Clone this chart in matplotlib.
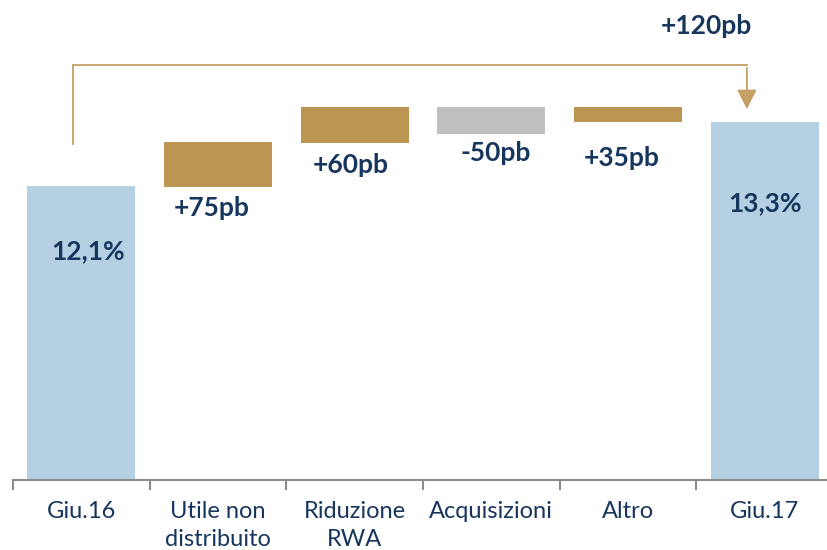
import matplotlib.pyplot as plt
from matplotlib.patches import FancyArrowPatch

# Dati (valori in %)
categorie = ['Giu.16', 'Utile non\ndistribuito', 'Riduzione\nRWA', 'Acquisizioni', 'Altro', 'Giu.17']
inizio = 12.1
fine = 13.3
step_basso = [12.08, 12.91, 13.08, 13.30]
step_alto = [12.93, 13.58, 13.58, 13.58]
step_segno = ['+', '+', '-', '+']
step_label = ['+75pb', '+60pb', '-50pb', '+35pb']
label_inizio = '12,1%'
label_fine = '13,3%'
label_totale = '+120pb'

BLU = '#B4D0E2'
ORO = '#BD9553'
GRIGIO = '#BFBFBF'
NAVY = '#17365D'
LINEA = '#C4A064'

plt.rcParams['font.family'] = ['Lato', 'DejaVu Sans']

fig = plt.figure(figsize=(8.27, 5.5), dpi=100)
ax = fig.add_axes([13 / 827, 70 / 550, 820 / 827, 480 / 550])

ymin = 6.59
ax.set_ylim(ymin, ymin + 9.0)
ax.set_xlim(-0.5, len(categorie) - 0.5)

w = 0.79
# barre totali
ax.bar(0, inizio - ymin, bottom=ymin, width=w, color=BLU)
ax.bar(5, fine - ymin, bottom=ymin, width=w, color=BLU)

# barre intermedie
for i, (lo, hi, s) in enumerate(zip(step_basso, step_alto, step_segno)):
    col = ORO if s == '+' else GRIGIO
    ax.bar(i + 1, hi - lo, bottom=lo, width=w, color=col)

# etichette delle variazioni (offset in pixel)
fs_val = 19
offsets = [(-6, -21), (-4, -22), (4, -19), (-6, -36)]
for i, (lo, lab, off) in enumerate(zip(step_basso, step_label, offsets)):
    ax.annotate(lab, (i + 1, lo), xytext=off, textcoords='offset pixels',
                ha='center', va='center', fontsize=fs_val, fontweight='bold', color=NAVY)

ax.annotate(label_inizio, (0, inizio), xytext=(7, -65), textcoords='offset pixels',
            ha='center', va='center', fontsize=fs_val, fontweight='bold', color=NAVY)
ax.annotate(label_fine, (5, fine), xytext=(0, -81), textcoords='offset pixels',
            ha='center', va='center', fontsize=fs_val, fontweight='bold', color=NAVY)

# connettore +120pb
y_ponte = 14.37
x0 = -0.06
x1 = 4.87
ax.plot([x0, x0, x1], [inizio + 0.79, y_ponte, y_ponte], color=LINEA, lw=1.3,
        solid_joinstyle='miter')
ax.add_patch(FancyArrowPatch((x1, y_ponte), (x1, fine + 0.19),
                             arrowstyle='-|>,head_length=12,head_width=6',
                             color=LINEA, lw=1.3, mutation_scale=1))
ax.text(4.57, y_ponte + 0.73, label_totale, ha='center', va='center',
        fontsize=fs_val, fontweight='bold', color=NAVY)

# assi
for s in ['top', 'right', 'left']:
    ax.spines[s].set_visible(False)
ax.spines['bottom'].set_color('#8C8C8C')
ax.spines['bottom'].set_linewidth(1.5)
ax.set_yticks([])
ax.set_xticks(range(len(categorie)))
ax.set_xticklabels(categorie, fontsize=17, color=NAVY, va='top', linespacing=1.4)
ax.tick_params(axis='x', which='major', length=0, pad=15)
ax.set_xticks([i - 0.5 for i in range(len(categorie) + 1)], minor=True)
ax.tick_params(axis='x', which='minor', length=7, width=1.5, color='#8C8C8C')

fig.savefig('out.png', dpi=100)
